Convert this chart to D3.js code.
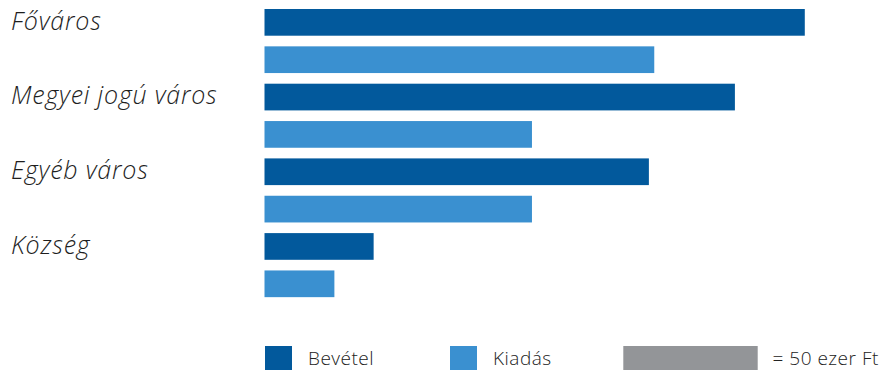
<!DOCTYPE html>
<html>
<head>
<meta charset="utf-8">
<script src="https://cdn.jsdelivr.net/npm/d3@7"></script>
<style>
  body { margin: 0; background: #fff; }
  svg { display: block; }
  .cat { font-family: "Open Sans", sans-serif; font-style: italic; font-weight: 300; font-size: 25px; letter-spacing: 0.8px; fill: #1e1e1e; }
  .leg { font-family: "Open Sans", sans-serif; font-weight: 300; font-size: 19px; letter-spacing: 0.5px; fill: #222; }
</style>
</head>
<body>
<svg id="chart"></svg>
<script>
// ezer Ft / fő
var categories = ["Főváros", "Megyei jogú város", "Egyéb város", "Község"]
var series = ["Bevétel", "Kiadás"]
var bevetel = [201, 175, 143, 40.6]
var kiadas = [145, 99.5, 99.5, 26]
var unitValue = 50
var unitLabel = "= 50 ezer Ft"

var screen = {width: 884, height: 370}
var margins = {left: 264.5, top: 9}
var catStep = 74.7

var svg = d3.select("#chart")
  .attr("width", screen.width)
  .attr("height", screen.height)

var rows = categories.map(function(c, i) {
  return {cat: c, values: [{s: "Bevétel", v: bevetel[i]}, {s: "Kiadás", v: kiadas[i]}]}
})

var xScale = d3.scaleLinear()
  .domain([0, unitValue])
  .range([0, 134.4])

var y0 = d3.scaleBand()
  .domain(categories)
  .range([margins.top, margins.top + catStep * categories.length])

var y1 = d3.scaleBand()
  .domain(series)
  .range([0, catStep])
  .paddingInner(0.285)
  .paddingOuter(0.1425)
  .align(0)

var colorScale = d3.scaleOrdinal()
  .domain(series)
  .range(["#02599c", "#3a90d0"])

var groups = svg.append("g")
  .selectAll("g")
  .data(rows)
  .enter()
  .append("g")
  .attr("transform", function(d) { return "translate(0," + y0(d.cat) + ")" })

groups.append("text")
  .classed("cat", true)
  .attr("x", 11)
  .attr("y", y1("Bevétel") + y1.bandwidth() - 6)
  .text(function(d) { return d.cat })

groups.selectAll("rect")
  .data(function(d) { return d.values })
  .enter()
  .append("rect")
  .attr("x", margins.left)
  .attr("y", function(d) { return y1(d.s) })
  .attr("width", function(d) { return xScale(d.v) })
  .attr("height", y1.bandwidth())
  .attr("fill", function(d) { return colorScale(d.s) })

// legend
var legendY = 346
var legendItems = [
  {name: "Bevétel", x: 265},
  {name: "Kiadás", x: 450}
]
var legend = svg.append("g").attr("transform", "translate(0," + legendY + ")")
var entries = legend.selectAll("g")
  .data(legendItems)
  .enter()
  .append("g")
  .attr("transform", function(d) { return "translate(" + d.x + ",0)" })
entries.append("rect")
  .attr("width", 27)
  .attr("height", 27)
  .attr("fill", function(d) { return colorScale(d.name) })
entries.append("text")
  .classed("leg", true)
  .attr("x", 43)
  .attr("y", 18.5)
  .text(function(d) { return d.name })

legend.append("rect")
  .attr("x", 623.3)
  .attr("width", xScale(unitValue))
  .attr("height", 27)
  .attr("fill", "#939598")
legend.append("text")
  .classed("leg", true)
  .attr("x", 772.5)
  .attr("y", 18.5)
  .text(unitLabel)
</script>
</body>
</html>
